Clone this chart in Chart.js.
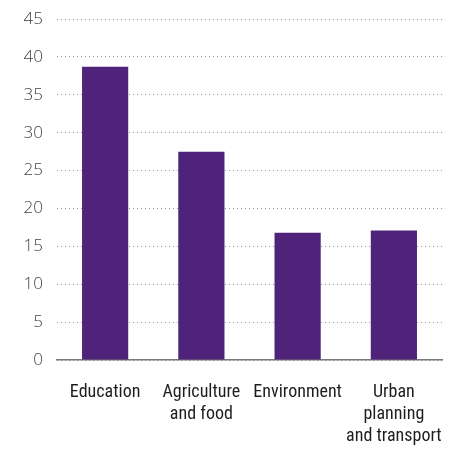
<!DOCTYPE html>
<html>
<head>
<meta charset="utf-8">
<script src="https://cdn.jsdelivr.net/npm/chart.js@4"></script>
<style>
  html, body { margin: 0; padding: 0; background: #fff; }
  #wrap { width: 463px; height: 450px; }
</style>
</head>
<body>
<div id="wrap"><canvas id="chart"></canvas></div>
<script>
const categories = [
  "Education",
  ["Agriculture", "and food"],
  "Environment",
  ["Urban", "planning", "and transport"]
];
const values = [38.7, 27.5, 16.8, 17.1];
const yTicks = { min: 0, max: 45, step: 5 };

const purple = "#50237a";

const ctx = document.getElementById("chart").getContext("2d");
new Chart(ctx, {
  type: "bar",
  data: {
    labels: categories,
    datasets: [{
      data: values,
      backgroundColor: purple,
      categoryPercentage: 1,
      barPercentage: 0.48
    }]
  },
  options: {
    responsive: true,
    maintainAspectRatio: false,
    animation: false,
    layout: { padding: { top: 0, right: 21, left: 0, bottom: 0 } },
    plugins: {
      legend: { display: false },
      tooltip: { enabled: false }
    },
    scales: {
      x: {
        grid: { display: false },
        border: { display: true, color: "#7a7a7a", width: 1.5 },
        ticks: {
          color: "#1e1e1e",
          padding: 14,
          maxRotation: 0,
          autoSkip: false,
          font: { family: "'Roboto Condensed', sans-serif", size: 18, lineHeight: 1.2 }
        },
        afterFit: s => { s.height = 90; }
      },
      y: {
        min: yTicks.min,
        max: yTicks.max,
        border: { display: false, dash: [1, 3] },
        grid: { color: "#999", lineWidth: 1, drawTicks: false },
        ticks: {
          stepSize: yTicks.step,
          color: "#444",
          padding: 14,
          // small lineHeight keeps the top gridline close to the canvas edge
          font: { family: "'Open Sans', sans-serif", size: 17, weight: 300, lineHeight: 0.6 }
        },
        afterFit: s => { s.width = 57; }
      }
    }
  }
});
</script>
</body>
</html>
